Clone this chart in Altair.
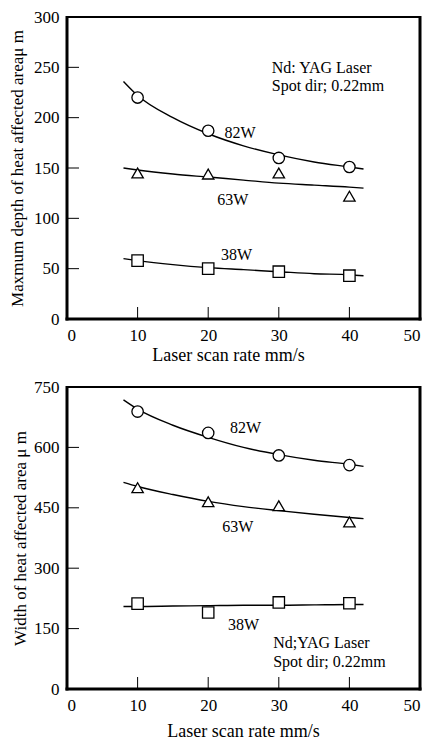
import altair as alt
import pandas as pd

FONT = "Liberation Serif"

# ---- measured points ----
scan_rate = [10, 20, 30, 40]
depth_82w = [220, 187, 160, 151]
depth_63w = [145, 144, 145, 122]
depth_38w = [58, 50, 47, 43]

width_82w = [689, 636, 580, 556]
width_63w = [500, 465, 455, 415]
width_38w = [212, 190, 215, 213]

# ---- fitted curves ----
curve_x = [8, 10, 15, 20, 25, 30, 35, 40, 42]
depth_82w_fit = [236, 222, 200, 184, 172, 163, 156, 151, 149]
depth_63w_fit = [150, 148, 144, 141, 138, 135, 133, 131, 130]
depth_38w_fit = [60, 58, 54, 51, 49, 47, 45, 44, 43]

width_82w_fit = [718, 695, 655, 625, 600, 582, 568, 558, 553]
width_63w_fit = [513, 503, 483, 466, 453, 443, 434, 426, 423]
width_38w_fit = [205, 205, 206, 207, 208, 208, 209, 210, 210]

series = ["82W", "63W", "38W"]
shapes = ["circle", "triangle-up", "square"]

x_ticks = [10, 20, 30, 40]
depth_ticks = [50, 100, 150, 200, 250]
width_ticks = [150, 300, 450, 600]

# label positions (data coords)
depth_labels = pd.DataFrame({"x": [24.5, 23.5, 24.0], "y": [185, 118, 64], "t": series})
width_labels = pd.DataFrame({"x": [25.3, 24.2, 25.0], "y": [648, 403, 160], "t": series})
depth_note = pd.DataFrame({"x": [29, 29], "y": [249, 231], "t": ["Nd: YAG Laser", "Spot dir; 0.22mm"]})
width_note = pd.DataFrame({"x": [29.2, 29.2], "y": [114, 68], "t": ["Nd;YAG Laser", "Spot dir; 0.22mm"]})

W, H = 353, 302


def panel(pts, fits, ymax, yticks, ytitle, labels, note, ytp, xtp, xtitle_x):
    pts_df = pd.concat([
        pd.DataFrame({"x": scan_rate, "y": v, "s": s}) for v, s in zip(pts, series)
    ])
    fit_df = pd.concat([
        pd.DataFrame({"x": curve_x, "y": v, "s": s}) for v, s in zip(fits, series)
    ])
    xs = alt.Scale(domain=[0, 50], nice=False, zero=False)
    ys = alt.Scale(domain=[0, ymax], nice=False)
    xax = alt.Axis(values=[0, 10, 20, 30, 40, 50], ticks=False, grid=False, domain=False,
                   labelFont=FONT, labelFontSize=17, labelColor="black", labelPadding=8,
                   title="Laser scan rate mm/s", titleFont=FONT, titleFontSize=18,
                   titleFontWeight="normal", titleColor="black", titlePadding=xtp,
                   titleX=xtitle_x)
    yax = alt.Axis(values=[0] + yticks + [ymax], ticks=False, grid=False, domain=False,
                   labelFont=FONT, labelFontSize=17, labelColor="black", labelPadding=8,
                   title=ytitle, titleFont=FONT, titleFontSize=17,
                   titleFontWeight="normal", titleColor="black", titlePadding=ytp)
    lines = alt.Chart(fit_df).mark_line(color="black", strokeWidth=1.4, interpolate="monotone").encode(
        x=alt.X("x:Q", scale=xs, axis=xax),
        y=alt.Y("y:Q", scale=ys, axis=yax),
        detail="s:N",
    )
    points = alt.Chart(pts_df).mark_point(filled=False, fill="white", fillOpacity=1,
                                          stroke="black", strokeWidth=1.3, size=130, opacity=1).encode(
        x=alt.X("x:Q", scale=xs),
        y=alt.Y("y:Q", scale=ys),
        shape=alt.Shape("s:N", scale=alt.Scale(domain=series, range=shapes), legend=None),
    )
    lab = alt.Chart(labels).mark_text(font=FONT, fontSize=16, color="black").encode(
        x=alt.X("x:Q", scale=xs), y=alt.Y("y:Q", scale=ys), text="t:N")
    nt = alt.Chart(note).mark_text(font=FONT, fontSize=16, color="black", align="left").encode(
        x=alt.X("x:Q", scale=xs), y=alt.Y("y:Q", scale=ys), text="t:N")
    xt = alt.Chart(pd.DataFrame({"v": x_ticks})).mark_rule(color="black", strokeWidth=1).encode(
        x=alt.X("v:Q", scale=xs), y=alt.value(H), y2=alt.value(H - 12))
    yt = alt.Chart(pd.DataFrame({"v": yticks})).mark_rule(color="black", strokeWidth=1).encode(
        y=alt.Y("v:Q", scale=ys), x=alt.value(0), x2=alt.value(12))
    one = pd.DataFrame({"f": [0]})
    f_top = alt.Chart(one).mark_rule(color="black", strokeWidth=2).encode(
        x=alt.value(-1), x2=alt.value(W + 1), y=alt.value(0))
    f_bot = alt.Chart(one).mark_rule(color="black", strokeWidth=3).encode(
        x=alt.value(-1.5), x2=alt.value(W + 1.5), y=alt.value(H))
    f_left = alt.Chart(one).mark_rule(color="black", strokeWidth=3).encode(
        y=alt.value(-1), y2=alt.value(H + 1.5), x=alt.value(0))
    f_right = alt.Chart(one).mark_rule(color="black", strokeWidth=3).encode(
        y=alt.value(-1), y2=alt.value(H + 1.5), x=alt.value(W))
    return alt.layer(xt, yt, lines, points, lab, nt, f_top, f_bot, f_left, f_right).properties(width=W, height=H)


top = panel([depth_82w, depth_63w, depth_38w],
            [depth_82w_fit, depth_63w_fit, depth_38w_fit],
            300, depth_ticks, "Maxmum depth of heat affected areaμ m",
            depth_labels, depth_note, 7, 3, 161)
bottom = panel([width_82w, width_63w, width_38w],
               [width_82w_fit, width_63w_fit, width_38w_fit],
               750, width_ticks, "Width of heat affected area μ m",
               width_labels, width_note, 4, 9, 176)

chart = alt.vconcat(top, bottom, spacing=14).configure(
    background="white",
    padding={"left": 0, "top": 0, "right": 0, "bottom": 0},
).configure_view(stroke=None)

chart.save("out.html", embed_options={"renderer": "svg", "actions": False})
